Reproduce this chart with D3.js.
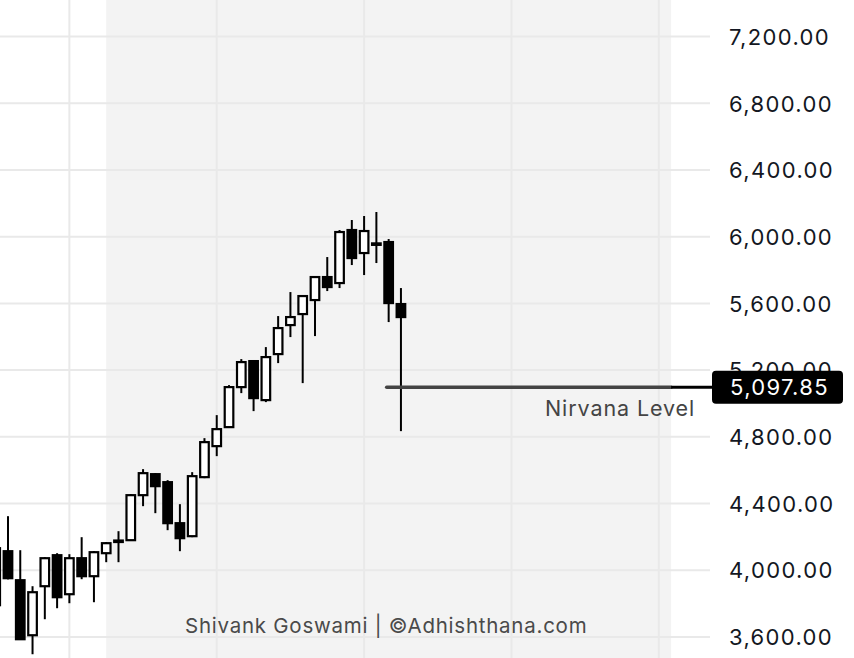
<!DOCTYPE html>
<html><head><meta charset="utf-8">
<script src="https://cdn.jsdelivr.net/npm/d3@7"></script>
<style>html,body{margin:0;padding:0;background:#fff;}svg{display:block;}</style>
</head><body>
<svg id="c" width="854" height="658"></svg>
<script>
// Candle data (index, open, high, low, close)
const opens  = [3790,4114,3940,3610,3904,4090,3856,4072,3964,4102,4170,4180,4450,4576,4528,4282,4204,4558,4744,4858,5098,5254,5020,5296,5470,5536,5620,5758,5722,6040,5902,5960,5968,5596];
const highs  = [4140,4324,4120,3904,4078,4102,4096,4198,4114,4168,4234,4456,4606,4582,4540,4396,4588,4792,4930,5110,5266,5260,5338,5524,5668,5650,5764,5878,6040,6100,6124,6148,5986,5692];
const lows   = [3780,3945,3585,3496,3706,3772,3802,3946,3808,4048,4048,4176,4384,4342,4240,4114,4198,4552,4684,4855,5062,4954,5008,5242,5398,5122,5404,5674,5692,5830,5770,5842,5488,4834];
const closes = [4132,3952,3586,3868,4072,3838,4072,3964,4108,4162,4178,4450,4582,4504,4282,4192,4564,4768,4846,5098,5248,5032,5278,5452,5518,5644,5758,5698,6028,5872,6034,5952,5602,5518];
const yTicks = [3600,4000,4400,4800,5200,5600,6000,6400,6800,7200];
const xGridIdx = [6,18,30,42,54];
const shadeFrom = 9, shadeTo = 55;
const nirvanaValue = 5097.85;
const nirvanaStartIdx = 32;
const nirvanaLabel = "Nirvana Level";
const watermark = "Shivank Goswami | ©Adhishthana.com";

const svg = d3.select("#c");
const x = d3.scaleLinear().domain([0,55]).range([-4.3,671.1]);
const y = d3.scaleLinear().domain([3600,7200]).range([636.9,36.6]);
const plotRight = 710;
const fmt = d3.format(",.2f");
const FONT = "Inter, 'Open Sans', sans-serif";

// shading
svg.append("rect").attr("x",x(shadeFrom)).attr("y",0).attr("width",x(shadeTo)-x(shadeFrom)).attr("height",658).attr("fill","#f3f3f3");

// grid
svg.append("g").selectAll("line").data(yTicks).join("line")
  .attr("x1",0).attr("x2",plotRight).attr("y1",d=>y(d)).attr("y2",d=>y(d))
  .attr("stroke","#e9e9e9").attr("stroke-width",2);
svg.append("g").selectAll("line").data(xGridIdx).join("line")
  .attr("x1",d=>x(d)).attr("x2",d=>x(d)).attr("y1",0).attr("y2",658)
  .attr("stroke","#e9e9e9").attr("stroke-width",2);

// y axis labels
const yAxis = d3.axisRight(y).tickValues(yTicks).tickFormat(fmt).tickSize(0).tickPadding(0);
const ya = svg.append("g").attr("transform",`translate(729,0)`).call(yAxis);
ya.select(".domain").remove();
ya.selectAll("text").attr("font-family",FONT).attr("font-size",22).attr("letter-spacing",1.35)
  .attr("fill","#131722").attr("dy","0.35em");

// watermark
svg.append("text").attr("x",185).attr("y",633)
  .attr("font-family",FONT).attr("font-size",20.5).attr("letter-spacing",0.75).attr("fill","#4a4a4a").text(watermark);

// candles
const data = opens.map((o,i)=>({i,o,h:highs[i],l:lows[i],c:closes[i]}));
const g = svg.append("g");
g.selectAll("line.wick").data(data).join("line").attr("class","wick")
  .attr("x1",d=>x(d.i)).attr("x2",d=>x(d.i)).attr("y1",d=>y(d.h)).attr("y2",d=>y(d.l))
  .attr("stroke","#000").attr("stroke-width",2);
g.selectAll("rect.body").data(data).join("rect").attr("class","body")
  .attr("x",d=>x(d.i)-4.3).attr("width",8.6)
  .attr("y",d=>y(Math.max(d.o,d.c))).attr("height",d=>Math.max(1.5,Math.abs(y(d.o)-y(d.c))))
  .attr("fill",d=>d.c>=d.o?"#fff":"#000").attr("stroke","#000").attr("stroke-width",2.2);

// nirvana line
const ny = y(nirvanaValue);
svg.append("line").attr("x1",x(nirvanaStartIdx)-2).attr("x2",x(shadeTo)).attr("y1",ny).attr("y2",ny)
  .attr("stroke","#444").attr("stroke-width",3.5).attr("stroke-linecap","round");
svg.append("line").attr("x1",x(shadeTo)).attr("x2",713).attr("y1",ny).attr("y2",ny)
  .attr("stroke","#000").attr("stroke-width",3);
svg.append("text").attr("x",545).attr("y",416)
  .attr("font-family",FONT).attr("font-size",21.5).attr("letter-spacing",0.9).attr("fill","#444").text(nirvanaLabel);
svg.append("rect").attr("x",712).attr("y",ny-16.5).attr("width",131).attr("height",33).attr("rx",4).attr("fill","#000");
svg.append("text").attr("x",730).attr("y",ny).attr("dy","0.35em")
  .attr("font-family",FONT).attr("font-size",22).attr("letter-spacing",1.35).attr("fill","#fff").text(fmt(nirvanaValue));
</script>
</body></html>
